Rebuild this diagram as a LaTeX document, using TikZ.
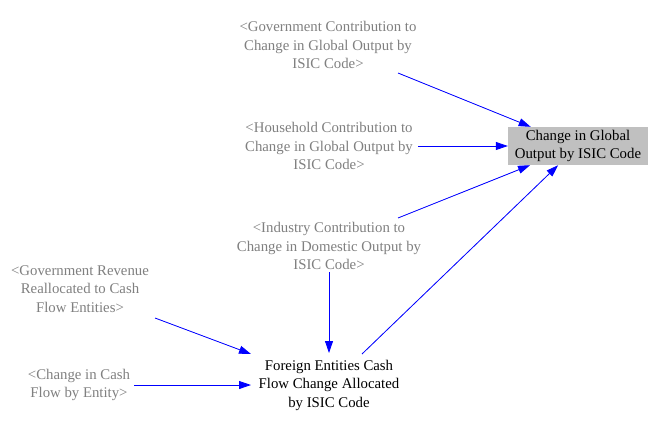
\documentclass[tikz,border=0pt]{standalone}
\usepackage{fontspec}
\setmainfont{Liberation Serif}
\usetikzlibrary{arrows.meta}
\definecolor{vgray}{RGB}{128,128,128}
\definecolor{vblue}{RGB}{0,0,255}
\definecolor{boxgray}{RGB}{192,192,192}
\begin{document}
\begin{tikzpicture}[x=1bp,y=-1bp,
  lbl/.style={inner sep=0pt, align=center, font=\fontsize{14.8bp}{18.5bp}\selectfont},
  shadow/.style={lbl, text=vgray},
  var/.style={lbl, text=black},
  tgtbox/.style={lbl, text=black, fill=boxgray, minimum width=140bp, minimum height=38bp},
  link/.style={draw=vblue, line width=0.8bp, -{Triangle[length=12bp,width=8bp]}, fill=vblue}
]
\useasboundingbox (0,0) rectangle (658,423);
\fill[white] (0,0) rectangle (658,423);

\node[shadow] (gc) at (328,45) {<Government Contribution to\\Change in Global Output by\\ISIC Code>};
\node[shadow] (hh) at (329,146) {<Household Contribution to\\Change in Global Output by\\ISIC Code>};
\node[shadow] (ind) at (329,246) {<Industry Contribution to\\Change in Domestic Output by\\ISIC Code>};
\node[shadow] (gr) at (80,289) {<Government Revenue\\Reallocated to Cash\\Flow Entities>};
\node[shadow] (cc) at (79,385) {<Change in Cash\\Flow by Entity>};
\node[var] (fe) at (329,385) {Foreign Entities Cash\\Flow Change Allocated\\by ISIC Code};
\node[tgtbox] (tgt) at (578,146) {Change in Global\\Output by ISIC Code};

\draw[link] ([shift={(70,28)}]gc.center) -- (tgt);
\draw[link] ([shift={(89,0)}]hh.center) -- (tgt);
\draw[link] ([shift={(69,-28)}]ind.center) -- (tgt);
\draw[link] ([shift={(33,-31)}]fe.center) -- (tgt);
\draw[link] ([shift={(0,26)}]ind.center) -- ([shift={(0,-32)}]fe.center);
\draw[link] ([shift={(75,29)}]gr.center) -- ([shift={(-78,-31)}]fe.center);
\draw[link] ([shift={(55,0)}]cc.center) -- ([shift={(-78,0)}]fe.center);
\end{tikzpicture}
\end{document}
